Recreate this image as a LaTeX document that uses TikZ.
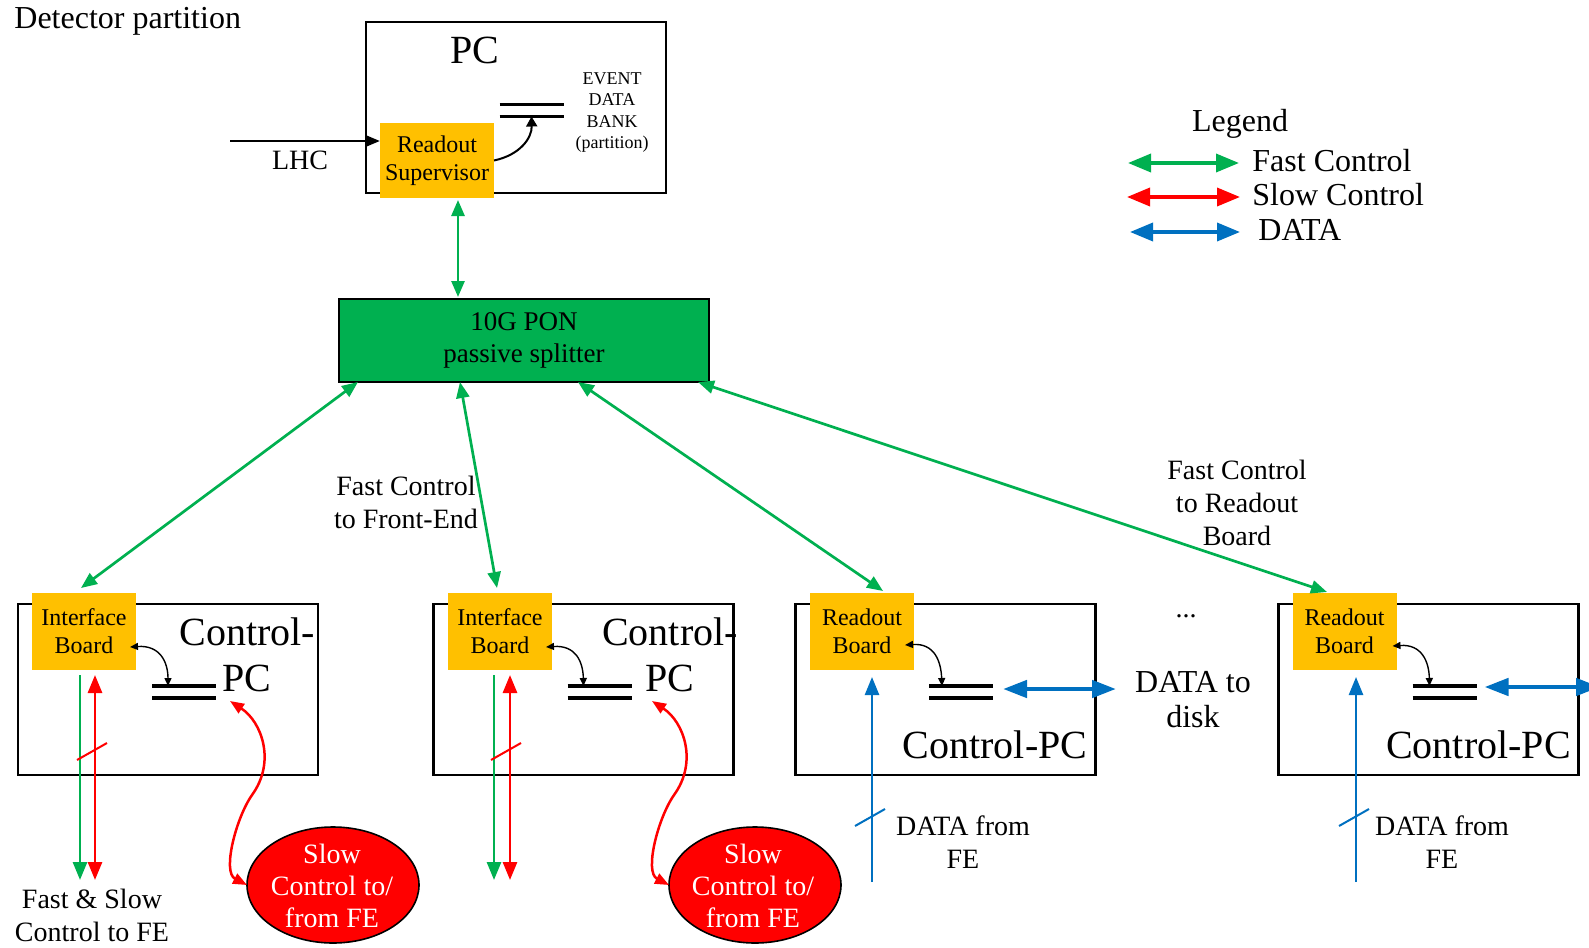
\documentclass[tikz,border=0pt]{standalone}
\usepackage{fontspec}
\setmainfont{Liberation Serif}
\usetikzlibrary{arrows.meta,shapes.geometric,calc}
\definecolor{fcgreen}{HTML}{00B050}
\definecolor{scred}{HTML}{FF0000}
\definecolor{datablue}{HTML}{0070C0}
\definecolor{boardorange}{HTML}{FFC000}
\begin{document}
\begin{tikzpicture}[x=0.5pt,y=-0.5pt,
  pcbox/.style={draw, line width=1.35pt, minimum width=150pt, minimum height=85.5pt, inner sep=0pt, outer sep=0pt},
  board/.style={fill=boardorange, inner sep=0pt, outer sep=0pt, align=center,
    font=\fontsize{12}{14}\selectfont, minimum width=52pt, minimum height=38.5pt},
  store/.style={minimum width=32pt, minimum height=6pt, inner sep=0pt, outer sep=0pt},
  storeline/.style={line width=1.6pt, black},
  lbl/.style={font=\fontsize{14}{16.5}\selectfont, align=center, inner sep=0pt},
  big/.style={font=\fontsize{16}{17.5}\selectfont, align=center, inner sep=0pt},
  huge/.style={font=\fontsize{20}{22}\selectfont, inner sep=0pt},
  fc/.style={fcgreen, line width=1.35pt, {Triangle[length=8pt,width=6.5pt]}-{Triangle[length=8pt,width=6.5pt]}},
  vline/.style={line width=1.4pt},
  dh/.style={datablue, line width=2.3pt, {Triangle[length=12pt,width=8.5pt]}-{Triangle[length=12pt,width=8.5pt]}},
  legarrow/.style={line width=1.8pt, {Triangle[length=11.5pt,width=9pt]}-{Triangle[length=11.5pt,width=9pt]}},
  smallcurve/.style={black, line width=0.7pt, {Triangle[length=4pt,width=3.5pt]}-{Triangle[length=4pt,width=3.5pt]}},
  scarrow/.style={scred, line width=1.25pt, {Triangle[length=7pt,width=5.5pt]}-{Triangle[length=7pt,width=5.5pt]}},
  slash/.style={line width=1pt},
  cloud/.style={ellipse, draw=black, fill=scred, line width=0.8pt, minimum width=86pt, minimum height=58pt, inner sep=0pt, outer sep=0pt},
  cloudtext/.style={white, font=\fontsize{14}{16.2}\selectfont, align=center, inner sep=0pt}
]
\clip (0,0) rectangle (1589,947);

% ---------- partition PC ----------
\node[big, anchor=west] (title) at (14,21) {Detector partition};
\node[pcbox] (pc) at (516,107.5) {};
\node[huge] (pct) at (475,50) {PC};
\node[board, minimum width=57pt, minimum height=37.5pt] (rs) at (437,160.5) {Readout\\Supervisor};
\node[store] (st0) at (531.5,110.5) {};
\node[font=\fontsize{9}{10.8}\selectfont, align=center, inner sep=0pt] (edb) at (612,112.5) {EVENT\\DATA\\BANK\\(partition)};
\coordinate (lhcin) at (230,141);
\node[lbl] (lhc) at (300,160) {LHC};

% ---------- splitter ----------
\node[draw, fill=fcgreen, line width=1.4pt, minimum width=185pt, minimum height=41.5pt,
  align=center, font=\fontsize{13.5}{16}\selectfont, inner sep=0pt, outer sep=0pt] (spl) at (524,340.5) {10G PON\\passive splitter};

% ---------- control PCs ----------
\node[pcbox] (cp1) at (168,689.5) {};
\node[pcbox] (cp2) at (583.5,689.5) {};
\node[pcbox] (cp3) at (945.5,689.5) {};
\node[pcbox] (cp4) at (1428.5,689.5) {};
\node[board] (ib1) at (84,631.5) {Interface\\Board};
\node[board] (ib2) at (500,631.5) {Interface\\Board};
\node[board] (rb1) at (862,631.5) {Readout\\Board};
\node[board] (rb2) at (1344.5,631.5) {Readout\\Board};
\node[huge] (c1a) at (247.5,632) {Control-};
\node[huge] (c1b) at (247,678) {PC};
\node[huge] (c2a) at (670,632) {Control-};
\node[huge] (c2b) at (670,678) {PC};
\node[huge] (c3) at (995,745) {Control-PC};
\node[huge] (c4) at (1478.5,745) {Control-PC};
\node[store] (st1) at (184,692) {};
\node[store] (st2) at (599.5,692) {};
\node[store] (st3) at (961,692) {};
\node[store] (st4) at (1444.5,692) {};
\foreach \s in {st0,st1,st2,st3,st4}
  \draw[storeline] (\s.north west) -- (\s.north east) (\s.south west) -- (\s.south east);

% ---------- slow control endpoints ----------
\node[cloud] (e1) at (333,885) {};
\node[cloudtext] (e1t) at (332,886) {Slow\\Control to/\\from FE};
\node[cloud] (e2) at (755,885) {};
\node[cloudtext] (e2t) at (753,886) {Slow\\Control to/\\from FE};

% ---------- labels ----------
\node[lbl] (fcfe) at (406,502) {Fast Control\\to Front-End};
\node[lbl] (fcrb) at (1237,503) {Fast Control\\to Readout\\Board};
\node[lbl] (fsfe) at (92,915) {Fast \& Slow\\Control to FE};
\node[lbl] (dfe3) at (963,842.5) {DATA from\\FE};
\node[lbl] (dfe4) at (1442,842.5) {DATA from\\FE};
\node[lbl] (dots) at (1186,616) {...};
\node[big] (disk) at (1193,699.5) {DATA to\\disk};

% ---------- legend ----------
\node[big] (lg) at (1240,124) {Legend};
\coordinate (la1) at (1128,163); \coordinate (lb1) at (1239,163);
\coordinate (la2) at (1127,197); \coordinate (lb2) at (1240,197);
\coordinate (la3) at (1130,232); \coordinate (lb3) at (1240,232);
\draw[legarrow, fcgreen] (la1) -- (lb1);
\draw[legarrow, scred] (la2) -- (lb2);
\draw[legarrow, datablue] (la3) -- (lb3);
\node[big, anchor=west] (lt1) at (1252,161) {Fast Control};
\node[big, anchor=west] (lt2) at (1252,195) {Slow Control};
\node[big, anchor=west] (lt3) at (1258,230) {DATA};

% ---------- partition PC connectors ----------
\draw[line width=1.3pt, -{Triangle[length=6.5pt,width=5pt]}] (lhcin) -- ([yshift=9.75pt]rs.west);
\draw[black, line width=1pt, -{Triangle[length=5pt,width=5.5pt]}] (rs.east) .. controls (520,155) and (532,138) .. (st0.south);
\draw[fc] ([xshift=10.5pt,yshift=-1pt]rs.south) -- ([xshift=-33pt,yshift=1pt]spl.north);

% ---------- fast control fan-out ----------
\draw[fc] ([xshift=9.5pt]spl.south west) -- ([xshift=-1.5pt,yshift=2.5pt]ib1.north);
\draw[fc] ([xshift=60.5pt]spl.south west) -- ([xshift=-1.5pt,yshift=2.5pt]ib2.north);
\draw[fc] ([xshift=119.5pt]spl.south west) -- ([xshift=10.5pt,yshift=1pt]rb1.north);
\draw[fc] ([xshift=-5.5pt]spl.south east) -- ([xshift=-8.75pt,yshift=0.5pt]rb2.north);

% ---------- board to storage ----------
\draw[smallcurve] ($(ib1.east)+(-6,15.5)$) .. controls (160,645) and (168,662) .. ($(st1.north west)+(16,0)$);
\draw[smallcurve] ($(ib2.east)+(-6,15.5)$) .. controls (576,645) and (583,662) .. ($(st2.north west)+(16,0)$);
\draw[smallcurve] ($(rb1.east)+(-9,13.5)$) .. controls (935,643) and (941,662) .. ($(st3.north west)+(13,0)$);
\draw[smallcurve] ($(rb2.east)+(-4,14.5)$) .. controls (1422,644) and (1429,662) .. ($(st4.north west)+(17,0)$);

% ---------- front-end links of the interface boards ----------
\coordinate (g1) at (80,880);  \coordinate (r1) at (95,880);
\coordinate (g2) at (494,880); \coordinate (r2) at (510,880);
\draw[vline, fcgreen, -{Triangle[length=9pt,width=7pt]}] ($(ib1.south)+(-4,5)$) -- (g1);
\draw[vline, scred, {Triangle[length=9pt,width=7pt]}-{Triangle[length=9pt,width=7pt]}] ($(ib1.south)+(11,5)$) -- (r1);
\draw[vline, fcgreen, -{Triangle[length=9pt,width=7pt]}] ($(ib2.south)+(-6,5)$) -- (g2);
\draw[vline, scred, {Triangle[length=9pt,width=7pt]}-{Triangle[length=9pt,width=7pt]}] ($(ib2.south)+(10,5)$) -- (r2);
\draw[slash, scred] (77,760) -- (107,743);
\draw[slash, scred] (491,760) -- (521,743);

% ---------- slow control to the front-end ----------
\draw[scarrow] ($(c1b)+(-17,23)$) .. controls (262,722) and (276,762) .. (252,795)
  .. controls (236,818) and (222,872) .. (e1.west);
\draw[scarrow] ($(c2b)+(-18,23)$) .. controls (684,722) and (698,762) .. (674,795)
  .. controls (658,818) and (644,872) .. (e2.west);

% ---------- data paths of the readout boards ----------
\coordinate (d3) at (872,882);
\coordinate (d4) at (1356,882);
\draw[vline, datablue, line width=1.25pt, -{Triangle[length=9pt,width=7pt]}] (d3) -- ($(rb1.south)+(10,7)$);
\draw[vline, datablue, line width=1.25pt, -{Triangle[length=9pt,width=7pt]}] (d4) -- ($(rb2.south)+(11.5,7)$);
\draw[slash, datablue] (855,826) -- (885,809);
\draw[slash, datablue] (1339,826) -- (1369,809);
\coordinate (dk) at (1116,689);
\coordinate (dx) at (1600,687);
\draw[dh] ($(st3.east)+(10,-3)$) -- (dk);
\draw[dh] ($(st4.east)+(8,-5)$) -- (dx);
\end{tikzpicture}
\end{document}
